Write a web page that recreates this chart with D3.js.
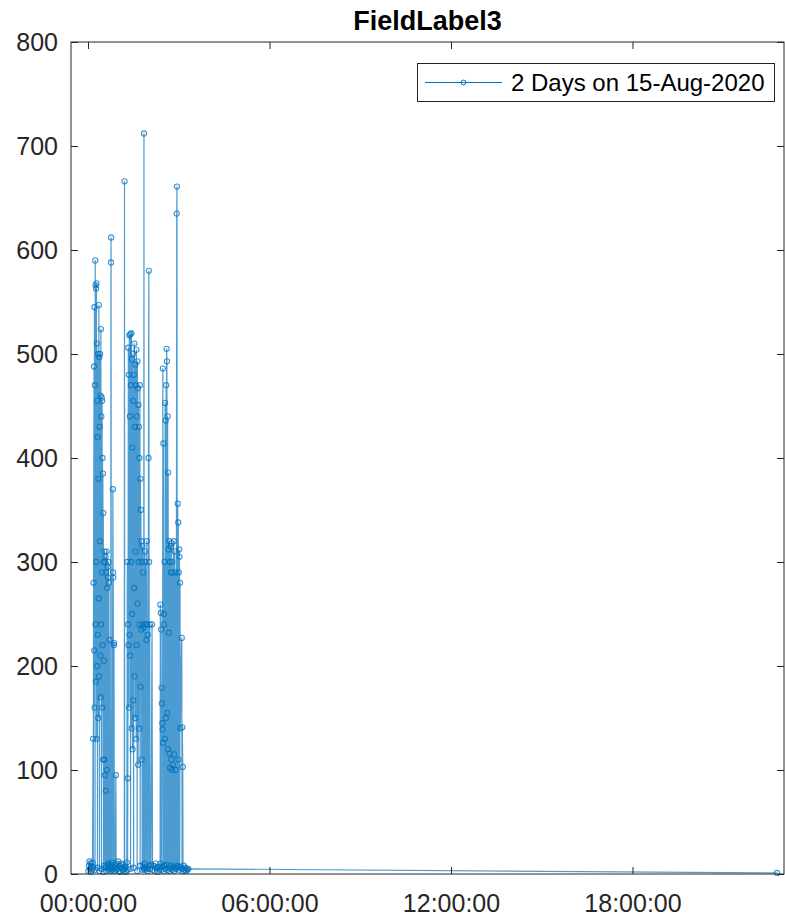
<!DOCTYPE html>
<html><head><meta charset="utf-8">
<script src="https://cdn.jsdelivr.net/npm/d3@7"></script>
<style>body{margin:0;background:#fff} text{font-family:"Liberation Sans",Arial,Helvetica,sans-serif}</style>
</head><body>
<svg id="c" width="785" height="917"></svg>
<script>
const chartTitle = "FieldLabel3";
const seriesName = "2 Days on 15-Aug-2020";
const yTickValues = [0, 100, 200, 300, 400, 500, 600, 700, 800];
const xTickHours = [0, 6, 12, 18];
const xDomainMinutes = [-33.7, 1380.5];
const yDomain = [0, 800];

// sample times, minutes after 15-Aug-2020 00:00:00
const minutes = [
  1,2,3,4,5,6,7,8,9,10,10.5,11,
  12,12.4,12.8,13.2,13.6,14,14.4,14.8,15.2,15.6,16,16.4,16.8,17.2,17.6,18,18.4,18.8,19.2,19.6,
  20,20.4,20.8,21.2,21.6,22,22.4,22.8,23.2,23.6,24,24.4,24.8,25.2,25.6,26,26.4,26.8,27.2,27.6,
  28,28.4,28.8,29.2,29.6,30,30.4,30.8,31.2,31.6,
  32,32.5,33,33.5,34,34.5,35,35.5,36,36.5,37,37.5,38,38.5,39,39.5,40,40.5,41,41.5,
  42,42.5,43,44,45,45.6,45.8,46.2,47,48,49.4,49.8,50.2,50.6,51.3,51.7,52.2,53,54,55.3,55.8,57,
  58.5,60,61.5,63,64.5,66,67.5,69,70.5,72,72.4,72.8,74,75.5,77,
  78,78.5,79,79.5,80,80.5,81,81.5,82,82.5,83,83.5,84,84.5,85,85.5,86,86.5,87,87.5,
  88,88.5,89,89.5,90,90.5,91,91.5,92,92.5,93,93.5,94,94.5,95,95.5,96,96.5,97,97.5,
  98,98.5,99,99.5,100,100.5,101,101.5,102,102.5,103,103.5,104,104.5,105,105.5,106,106.5,107,107.5,
  108,108.5,109,109.5,110,110.5,
  111,111.4,112,113,113.5,114,114.6,115.2,116,116.6,117.2,117.8,118.5,119.2,120,120.6,121.2,121.8,122.5,123.3,
  125,127,128,130,132,134,136,138,140,141.5,
  143,143.5,144,144.5,145,145.5,146,146.5,147,147.5,
  148,148.5,149,149.5,150,150.5,151,151.5,152,152.5,
  153,153.5,154,154.5,155,155.5,156,156.5,157,157.5,
  158,158.5,159,159.5,160,160.5,161,161.5,162,162.5,
  163,163.5,164,164.5,165,165.5,166,166.5,167,167.5,
  168,168.5,169,170,170.5,171,172,172.5,173.5,174,
  175,176,176.5,177,178,178.5,179,179.5,180,180.5,
  181,181.5,182,182.5,183,186,186.5,187,188,188.5,
  190,191.5,193,194.5,196,197.5,199,
  1366.7
];
const values = [
  3,8,12,5,10,2,7,4,11,130,6,280,
  488,215,545,160,470,4,590,240,566,185,563,300,568,130,510,200,455,6,420,230,
  500,150,380,265,547,190,497,3,430,320,500,210,460,170,524,240,440,5,458,290,
  455,160,400,220,385,110,347,2,300,205,
  8,110,310,95,300,6,305,80,290,3,310,100,275,7,295,285,10,300,4,280,
  9,225,5,8,3,588,612,6,11,4,370,290,285,5,220,222,3,9,6,95,4,10,
  5,12,3,8,2,10,6,4,9,3,666,5,7,2,11,
  300,4,92,240,506,220,480,160,518,230,440,210,519,5,470,300,520,140,495,250,
  410,120,500,167,455,6,480,275,510,190,430,150,490,310,470,130,504,220,440,3,
  493,260,467,105,451,300,430,140,400,240,470,8,380,180,350,235,320,110,300,4,
  315,240,290,7,237,5,
  712,5,10,310,4,300,240,6,225,320,240,3,230,5,400,580,300,8,240,5,
  9,240,4,8,3,10,6,2,7,4,
  6,259,10,251,235,4,179,164,7,145,
  139,486,126,414,3,250,240,8,300,130,
  453,5,436,150,470,9,505,493,155,4,
  440,120,386,6,312,232,3,320,116,300,
  102,8,315,290,110,5,318,100,300,4,
  290,105,7,320,115,3,310,6,290,100,
  5,635,661,8,356,6,338,110,290,4,
  312,305,7,280,140,227,5,141,103,3,
  8,4,6,3,5,4,5,
  1
];

const baseMs = Date.UTC(2020, 7, 15, 0, 0, 0);
const toDate = m => new Date(baseMs + m * 60000);
const data = minutes.map((m, i) => ({t: toDate(m), v: values[i]}));

const L = 71, R = 784, T = 42, B = 874;
const color = "#0072BD", axisColor = "#262626";
const svg = d3.select("#c");

const x = d3.scaleUtc().domain(xDomainMinutes.map(toDate)).range([L, R]);
const y = d3.scaleLinear().domain(yDomain).range([B, T]);

// plot
svg.append("clipPath").attr("id", "clip").append("rect")
  .attr("x", L).attr("y", T - 4).attr("width", R - L + 4).attr("height", B - T + 8);
const plot = svg.append("g").attr("clip-path", "url(#clip)");
plot.append("path").datum(data)
  .attr("fill", "none").attr("stroke", color).attr("stroke-width", 1.2)
  .attr("stroke-opacity", 0.7).attr("stroke-linejoin", "round")
  .attr("d", d3.line().x(d => x(d.t)).y(d => y(d.v)));
plot.selectAll("circle").data(data).join("circle")
  .attr("cx", d => x(d.t)).attr("cy", d => y(d.v)).attr("r", 2.6)
  .attr("fill", "none").attr("stroke", color).attr("stroke-width", 1.1).attr("stroke-opacity", 0.75);

// axes
const fmt = d3.utcFormat("%H:%M:%S");
const xTicks = xTickHours.map(h => toDate(h * 60));
const styleAxis = g => {
  g.select(".domain").remove();
  g.selectAll(".tick line").attr("stroke", axisColor);
  g.selectAll(".tick text").attr("fill", axisColor).style("font-size", "25px")
    .style("font-family", '"Liberation Sans",Arial,sans-serif');
};
svg.append("g").attr("transform", `translate(0,${B})`)
  .call(d3.axisBottom(x).tickValues(xTicks).tickFormat(fmt).tickSize(-7).tickPadding(20))
  .call(styleAxis);
svg.append("g").attr("transform", `translate(0,${T})`)
  .call(d3.axisTop(x).tickValues(xTicks).tickFormat("").tickSize(-7))
  .call(styleAxis);
svg.append("g").attr("transform", `translate(${L},0)`)
  .call(d3.axisLeft(y).tickValues(yTickValues).tickSize(-7).tickPadding(13))
  .call(styleAxis);
svg.append("g").attr("transform", `translate(${R},0)`)
  .call(d3.axisRight(y).tickValues(yTickValues).tickFormat("").tickSize(-7))
  .call(styleAxis);
svg.append("rect").attr("x", L).attr("y", T).attr("width", R - L).attr("height", B - T)
  .attr("fill", "none").attr("stroke", axisColor).attr("stroke-width", 1);

// title
svg.append("text").attr("x", (L + R) / 2).attr("y", 30).attr("text-anchor", "middle")
  .attr("fill", "#000").style("font-size", "27px").style("font-weight", "bold").text(chartTitle);

// legend
const lg = svg.append("g");
lg.append("rect").attr("x", 417.5).attr("y", 63.5).attr("width", 357).attr("height", 38)
  .attr("fill", "#fff").attr("stroke", axisColor).attr("stroke-width", 1);
lg.append("line").attr("x1", 425).attr("x2", 502).attr("y1", 82.5).attr("y2", 82.5)
  .attr("stroke", color).attr("stroke-width", 1);
lg.append("circle").attr("cx", 463.5).attr("cy", 82.5).attr("r", 2.4)
  .attr("fill", "none").attr("stroke", color).attr("stroke-width", 1);
lg.append("text").attr("x", 511).attr("y", 82.5).attr("dy", "0.35em")
  .attr("fill", "#000").style("font-size", "24px").text(seriesName);
</script>
</body></html>
